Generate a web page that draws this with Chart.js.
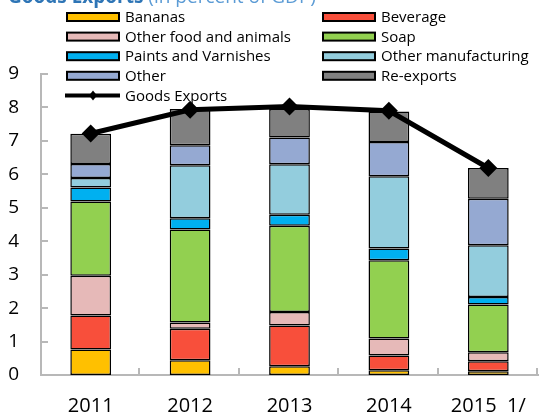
<!DOCTYPE html>
<html>
<head>
<meta charset="utf-8">
<script src="https://cdn.jsdelivr.net/npm/chart.js@4.4.1/dist/chart.umd.min.js"></script>
<style>
  html, body { margin: 0; padding: 0; background: #fff; overflow: hidden; }
  canvas { display: block; }
</style>
</head>
<body>
<canvas id="chartExports" width="547" height="417"></canvas>
<script>
const titleMain = 'Goods Exports';
const titleSub = '(in percent of GDP)';

const years = ['2011', '2012', '2013', '2014', '2015  1/'];

// components, percent of GDP
const bananas    = [0.76, 0.44, 0.26, 0.14, 0.11];
const beverage   = [1.02, 0.94, 1.22, 0.44, 0.30];
const otherFood  = [1.19, 0.19, 0.40, 0.51, 0.27];
const soap       = [2.22, 2.78, 2.58, 2.34, 1.43];
const paints     = [0.42, 0.34, 0.33, 0.35, 0.22];
const otherManuf = [0.28, 1.58, 1.51, 2.16, 1.55];
const other      = [0.42, 0.60, 0.80, 1.03, 1.39];
const reExports  = [0.90, 1.08, 0.85, 0.91, 0.92];

// total line
const goodsExports = [7.22, 7.93, 8.03, 7.90, 6.19];

const yMin = 0, yMax = 9, yStep = 1;

const axisColor = '#b8b8b8';
const font = '"Open Sans", "DejaVu Sans", sans-serif';

function barSet(label, data, color){
    return {
        type: 'bar',
        label: label,
        data: data,
        backgroundColor: color,
        borderColor: '#000',
        borderWidth: 1.5,
        borderSkipped: false,
        barPercentage: 0.41,
        categoryPercentage: 1,
        stack: 'goods',
        order: 1
    };
}

// inward tick marks on both axes
const innerTicks = {
    id: 'innerTicks',
    beforeDatasetsDraw(chart){
        const ctx = chart.ctx;
        const a = chart.chartArea;
        const x = chart.scales.x, y = chart.scales.y;
        ctx.save();
        ctx.strokeStyle = axisColor;
        ctx.lineWidth = 2;
        ctx.beginPath();
        y.ticks.forEach((t, i) => {
            const py = Math.round(y.getPixelForTick(i));
            ctx.moveTo(a.left, py);
            ctx.lineTo(a.left + 7, py);
        });
        const step = (a.right - a.left) / x.ticks.length;
        for(let i = 1; i <= x.ticks.length; i++){
            const px = Math.round(a.left + step * i) - 1;
            ctx.moveTo(px, a.bottom);
            ctx.lineTo(px, a.bottom - 7);
        }
        ctx.stroke();
        ctx.restore();
    }
};

// title (runs off the top edge) and the two-column legend
const titleAndLegend = {
    id: 'titleAndLegend',
    afterDraw(chart){
        const ctx = chart.ctx;
        ctx.save();

        ctx.textBaseline = 'alphabetic';
        ctx.textAlign = 'left';
        ctx.font = 'bold 19px ' + font;
        ctx.fillStyle = '#2e75b6';
        ctx.fillText(titleMain, 8, 3);
        const w = ctx.measureText(titleMain + ' ').width;
        ctx.font = '19px ' + font;
        ctx.fillStyle = '#5b9bd5';
        ctx.fillText(titleSub, 8 + w, 3);

        const colX = [67, 323];
        const rowY0 = 17, rowGap = 19.6;
        const boxW = 52, boxH = 8;
        ctx.font = '15px ' + font;
        ctx.textBaseline = 'middle';
        chart.data.datasets.forEach((ds, i) => {
            const cx = colX[i % 2];
            const cy = rowY0 + Math.floor(i / 2) * rowGap;
            if(ds.type === 'line'){
                ctx.strokeStyle = '#000';
                ctx.lineWidth = 4;
                ctx.beginPath();
                ctx.moveTo(cx - 2, cy);
                ctx.lineTo(cx + boxW + 1, cy);
                ctx.stroke();
                const mx = cx + boxW / 2;
                ctx.fillStyle = '#000';
                ctx.beginPath();
                ctx.moveTo(mx, cy - 5);
                ctx.lineTo(mx + 4, cy);
                ctx.lineTo(mx, cy + 5);
                ctx.lineTo(mx - 4, cy);
                ctx.closePath();
                ctx.fill();
            } else {
                ctx.fillStyle = ds.backgroundColor;
                ctx.fillRect(cx, cy - boxH / 2, boxW, boxH);
                ctx.strokeStyle = '#000';
                ctx.lineWidth = 2;
                ctx.strokeRect(cx, cy - boxH / 2, boxW, boxH);
            }
            ctx.fillStyle = '#000';
            ctx.fillText(ds.label, cx + boxW + 6, cy + 1);
        });
        ctx.restore();
    }
};

const ctx = document.getElementById('chartExports').getContext('2d');

new Chart(ctx, {
    data: {
        labels: years,
        datasets: [
            barSet('Bananas', bananas, '#ffc000'),
            barSet('Beverage', beverage, '#f84f3b'),
            barSet('Other food and animals', otherFood, '#e6b9b8'),
            barSet('Soap', soap, '#92d050'),
            barSet('Paints and Varnishes', paints, '#00b0f0'),
            barSet('Other manufacturing', otherManuf, '#93cddd'),
            barSet('Other', other, '#95a9d2'),
            barSet('Re-exports', reExports, '#808080'),
            {
                type: 'line',
                label: 'Goods Exports',
                data: goodsExports,
                borderColor: '#000',
                borderWidth: 5,
                backgroundColor: '#000',
                pointStyle: 'rectRot',
                pointRadius: 9,
                pointBackgroundColor: '#000',
                pointBorderWidth: 0,
                tension: 0,
                stack: 'total',
                order: 0
            }
        ]
    },
    options: {
        responsive: false,
        animation: false,
        devicePixelRatio: 1,
        layout: { padding: { top: 74, right: 1, left: 0, bottom: 0 } },
        plugins: {
            legend: { display: false },
            tooltip: { enabled: false },
            title: { display: false }
        },
        scales: {
            x: {
                stacked: true,
                grid: { display: false, drawTicks: false },
                border: { display: true, color: axisColor, width: 2 },
                ticks: {
                    color: '#000',
                    font: { family: font, size: 20 },
                    padding: 19,
                    maxRotation: 0,
                    autoSkip: false
                },
                afterFit(s){ s.height = 42; }
            },
            y: {
                stacked: true,
                min: yMin,
                max: yMax,
                grid: { display: false, drawTicks: false },
                border: { display: true, color: axisColor, width: 2 },
                ticks: {
                    stepSize: yStep,
                    color: '#000',
                    font: { family: font, size: 19 },
                    padding: 22
                },
                afterFit(s){ s.width = 41; }
            }
        }
    },
    plugins: [innerTicks, titleAndLegend]
});
</script>
</body>
</html>
